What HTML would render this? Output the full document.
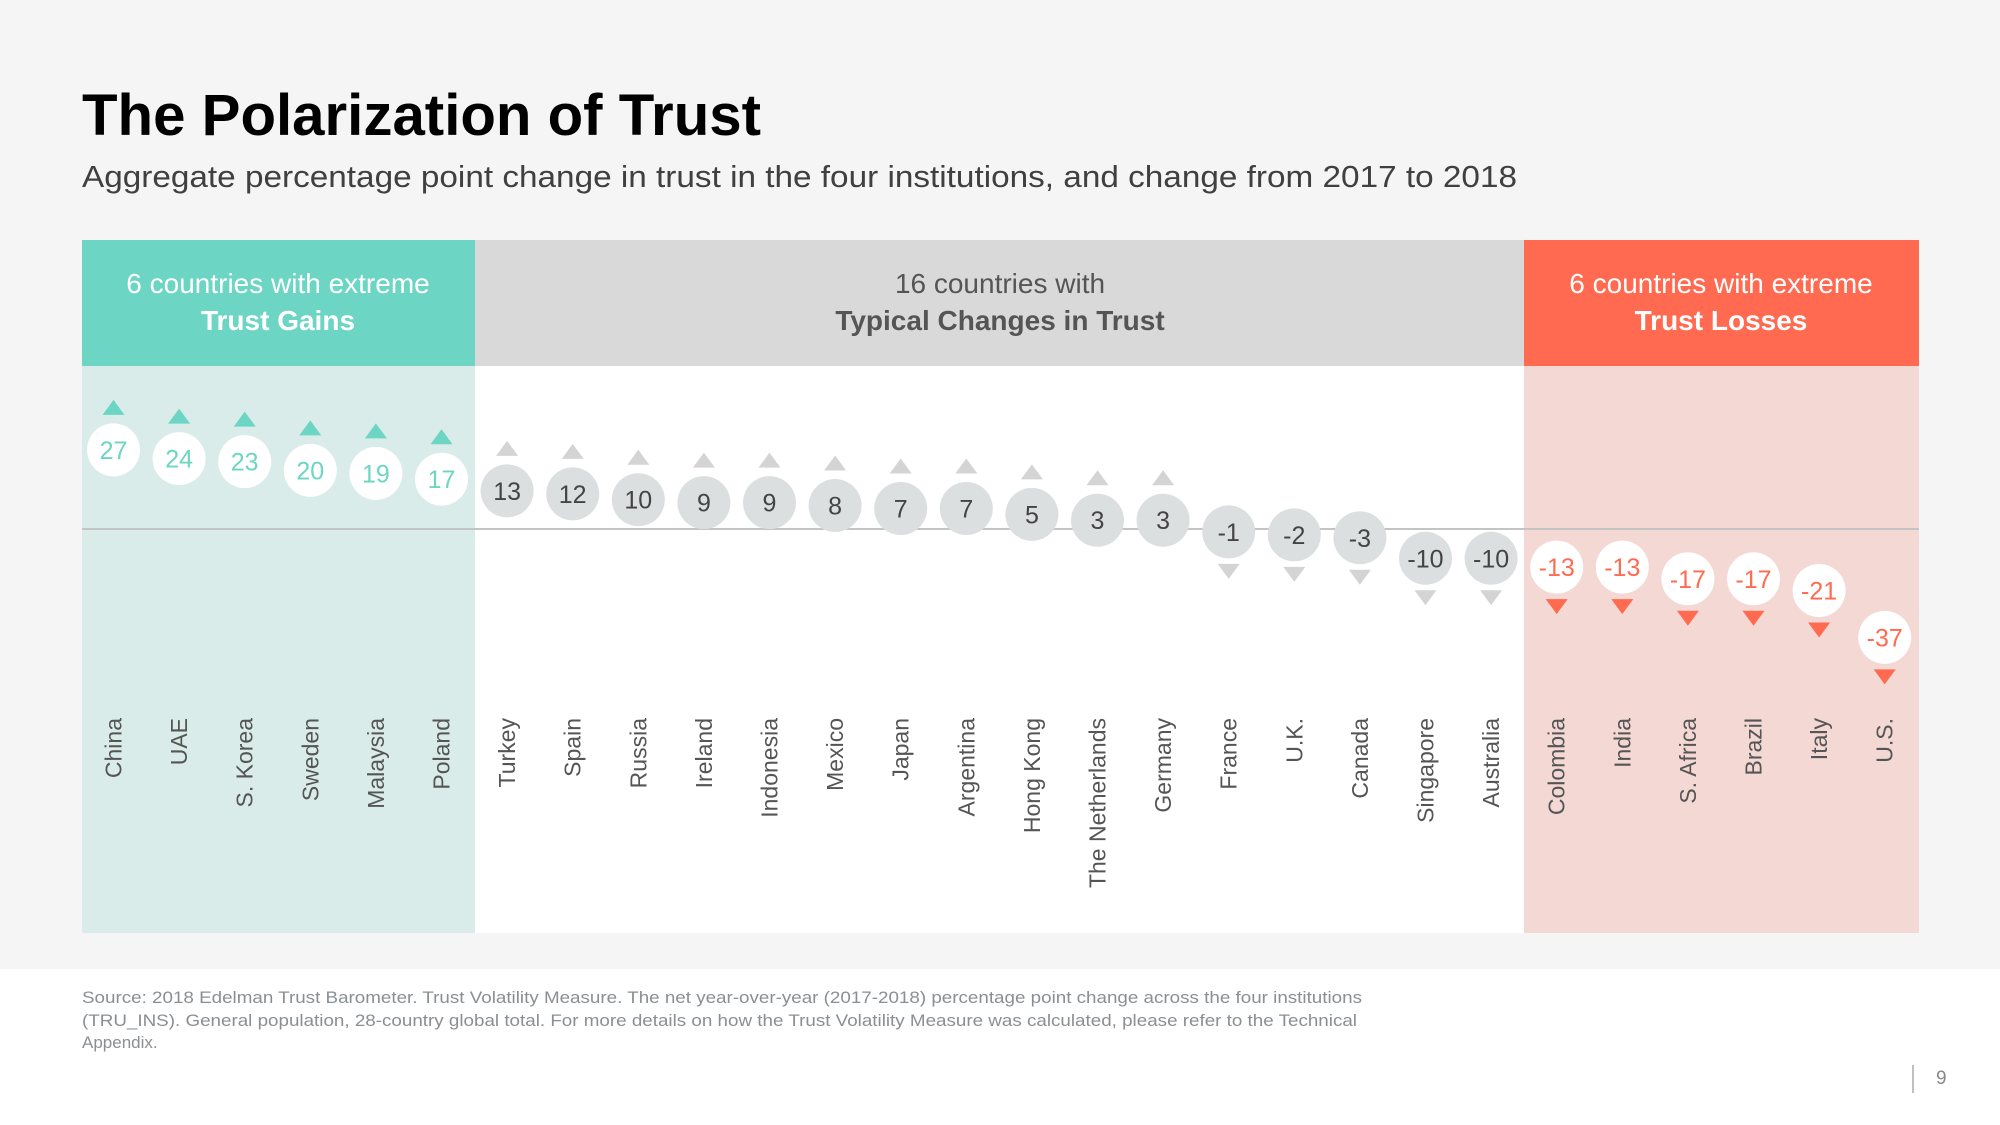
<!DOCTYPE html>
<html><head><meta charset="utf-8"><style>
html,body{margin:0;padding:0;background:#f4f5f4;}
svg{display:block;font-family:"Liberation Sans",Arial,sans-serif;}
</style></head><body>
<svg id="chart" width="2000" height="1125" viewBox="0 0 2000 1125">
<rect x="0" y="0" width="2000" height="1125" fill="#f4f5f4"/>
<rect x="0" y="969" width="2000" height="156" fill="#ffffff"/>
<text x="82" y="135" font-size="58" font-weight="bold" fill="#000" textLength="679" lengthAdjust="spacingAndGlyphs">The Polarization of Trust</text>
<text x="82" y="187" font-size="31" fill="#404040" textLength="1435" lengthAdjust="spacingAndGlyphs">Aggregate percentage point change in trust in the four institutions, and change from 2017 to 2018</text>

<rect x="82" y="240" width="393" height="126" fill="#6dd5c3"/>
<rect x="82" y="366" width="393" height="567" fill="#d9ece9"/>
<rect x="475" y="240" width="1049" height="126" fill="#d9d9d9"/>
<rect x="475" y="366" width="1049" height="567" fill="#ffffff"/>
<rect x="1524" y="240" width="395" height="126" fill="#ff6a50"/>
<rect x="1524" y="366" width="395" height="567" fill="#f4d8d4"/>

<g font-size="28" text-anchor="middle">
<text x="278" y="293" fill="#fff">6 countries with extreme</text>
<text x="278" y="330" fill="#fff" font-weight="bold">Trust Gains</text>
<text x="1000" y="293" fill="#555">16 countries with</text>
<text x="1000" y="330" fill="#555" font-weight="bold">Typical Changes in Trust</text>
<text x="1721" y="293" fill="#fff">6 countries with extreme</text>
<text x="1721" y="330" fill="#fff" font-weight="bold">Trust Losses</text>
</g>
<line x1="82" y1="529" x2="1919" y2="529" stroke="#c4c4c4" stroke-width="2"/>
<g id="marks"></g>

<g font-size="17" fill="#8a8f93">
<text x="82" y="1003" textLength="1280" lengthAdjust="spacingAndGlyphs">Source: 2018 Edelman Trust Barometer. Trust Volatility Measure. The net year-over-year (2017-2018) percentage point change across the four institutions</text>
<text x="82" y="1026" textLength="1275" lengthAdjust="spacingAndGlyphs">(TRU_INS). General population, 28-country global total. For more details on how the Trust Volatility Measure was calculated, please refer to the Technical</text>
<text x="82" y="1048">Appendix.</text>
</g>
<line x1="1913" y1="1065" x2="1913" y2="1093" stroke="#aaa" stroke-width="1.5"/>
<text x="1936" y="1084" font-size="19" fill="#888">9</text>
</svg>
<script>
const countries = ["China","UAE","S. Korea","Sweden","Malaysia","Poland","Turkey","Spain","Russia","Ireland","Indonesia","Mexico","Japan","Argentina","Hong Kong","The Netherlands","Germany","France","U.K.","Canada","Singapore","Australia","Colombia","India","S. Africa","Brazil","Italy","U.S."];
const changes = [27,24,23,20,19,17,13,12,10,9,9,8,7,7,5,3,3,-1,-2,-3,-10,-10,-13,-13,-17,-17,-21,-37];
const groups = ["gain","gain","gain","gain","gain","gain","typ","typ","typ","typ","typ","typ","typ","typ","typ","typ","typ","typ","typ","typ","typ","typ","loss","loss","loss","loss","loss","loss"];

const NS = "http://www.w3.org/2000/svg";
const g = document.getElementById("marks");
function xPos(i){ return 113.5 + i * 65.6; }
function yPos(v){ return 529 - 2.93 * v; }
function mk(tag, attrs){ const e = document.createElementNS(NS, tag); for (const k in attrs) e.setAttribute(k, attrs[k]); g.appendChild(e); return e; }

countries.forEach((c, i) => {
  const v = changes[i], grp = groups[i];
  const x = xPos(i), y = yPos(v);
  const bubbleFill = grp === "typ" ? "#dcdfdf" : "#ffffff";
  const textFill = grp === "gain" ? "#6dd5c3" : grp === "loss" ? "#ff6a50" : "#444";
  const triFill = grp === "gain" ? "#6dd5c3" : grp === "loss" ? "#ff6a50" : "#d4d4d4";
  let tri;
  if (v >= 0) {
    const ty = y - 42;
    tri = mk("polygon", {points: `${x-11},${ty+7} ${x+11},${ty+7} ${x},${ty-8}`, fill: triFill});
  } else {
    const ty = y + 39;
    tri = mk("polygon", {points: `${x-11},${ty-7} ${x+11},${ty-7} ${x},${ty+8}`, fill: triFill});
  }
  
  
  const circ = mk("circle", {cx: x, cy: y, r: 26.5, fill: bubbleFill});
  
  
  const t = mk("text", {x: x, y: y + 9, "font-size": 25, "text-anchor": "middle", fill: textFill});
  t.textContent = String(v);
  
  
  const lbl = mk("text", {x: 0, y: 0, "font-size": 23, "text-anchor": "end", fill: "#555", transform: `translate(${x+8},718) rotate(-90)`});
  lbl.textContent = c;
  
  
});
</script>
</body></html>
